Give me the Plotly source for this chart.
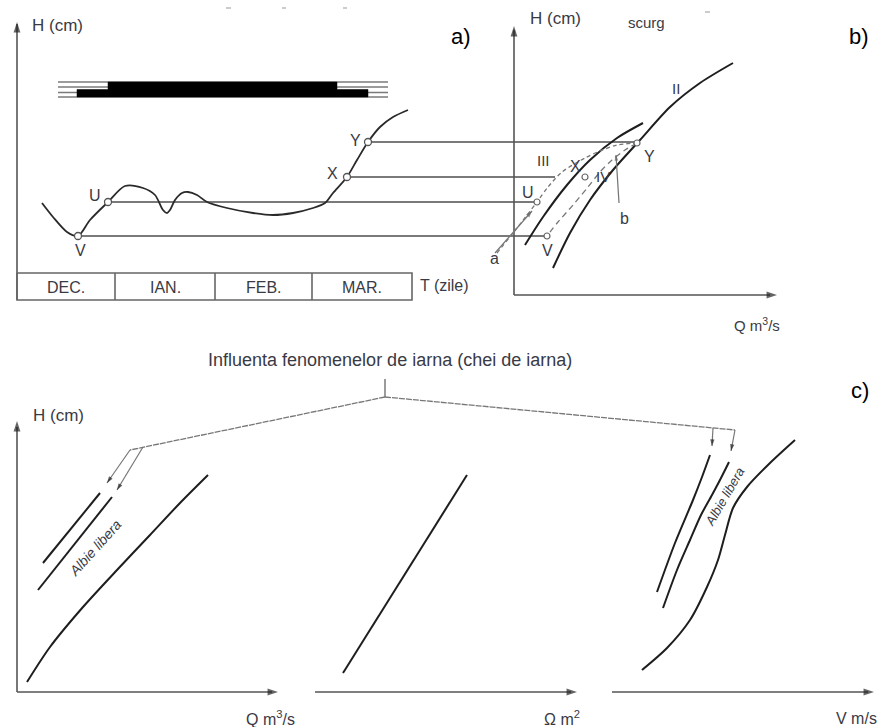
import plotly.graph_objects as go

# ---------------- data (diagram units: x to the right, y downward) ----------------
# panel a) water-level hydrograph H(t)
hydro_t = [42, 53, 67, 78, 90, 108, 125, 143, 155, 163, 167, 170, 175, 182, 188, 197, 207, 227, 253, 273, 293,
           313, 325, 333, 347, 357, 368, 380, 393, 408]
hydro_h = [203, 217, 232, 236, 220, 202, 186, 188, 195, 210, 213, 210, 200, 193, 192, 195, 202, 208, 213, 215, 213,
           208, 203, 193, 177, 160, 142, 127, 117, 110]

point_names = ["V", "U", "X", "Y"]
point_t = [78, 108, 347, 368]
point_h = [236, 202, 177, 142]
level_end_q = [545, 535, 555, 635]

# ice-cover bar
ice_line_h = [82, 87, 92.5, 97]
ice_line_t = [58, 388]
ice_poly_t = [108, 337, 337, 368, 368, 77, 77, 108, 108]
ice_poly_h = [82, 82, 89.5, 89.5, 97, 97, 89.5, 89.5, 82]

# month table
months = ["DEC.", "IAN.", "FEB.", "MAR."]
table_edges = [17, 115, 215, 312, 412]
table_top, table_bottom = 273, 300

# panel b) rating curves
curveII_q = [553, 570, 590, 613, 640, 670, 700, 733]
curveII_h = [268, 233, 200, 170, 140, 107, 83, 63]
curveIII_q = [525, 543, 567, 590, 617, 643]
curveIII_h = [245, 217, 185, 160, 138, 123]
rise_q = [497, 517, 537, 548, 562, 585, 600, 617, 637]
rise_h = [253, 228, 202, 187, 172, 158, 151, 145, 143]
fall_q = [637, 625, 612, 600, 588, 573, 558, 547]
fall_h = [143, 150, 160, 172, 187, 205, 222, 236]
b_marker_q = [547, 537, 585, 637]
b_marker_h = [236, 202, 177, 143]
pointer_a_q = [495, 532]
pointer_a_h = [253, 211]
pointer_b_q = [619, 616]
pointer_b_h = [203, 155]

# panel c) H-Q, H-Omega, H-V
curveQ_x = [27, 50, 83, 117, 150, 180, 208]
curveQ_y = [682, 647, 607, 570, 535, 503, 475]
winterQ1_x = [43, 100]
winterQ1_y = [563, 493]
winterQ2_x = [38, 112]
winterQ2_y = [590, 497]
omega_x = [343, 467]
omega_y = [673, 475]
curveV_x = [642, 667, 690, 707, 718, 725, 733, 747, 770, 795]
curveV_y = [670, 648, 620, 587, 560, 535, 508, 487, 463, 440]
winterV1_x = [657, 675, 693, 702, 710]
winterV1_y = [592, 543, 500, 477, 455]
winterV2_x = [663, 677, 690, 701, 712, 721, 729]
winterV2_y = [608, 570, 540, 515, 495, 478, 462]

# bracket "Influenta fenomenelor de iarna"
bracket_stem_x = [385, 385]
bracket_stem_y = [379, 397]
bracket_left_x = [385, 143, 130]
bracket_left_y = [397, 447, 450]
bracket_right_x = [385, 735]
bracket_right_y = [397, 430]
leader_x = [[130, 107], [143, 117], [713, 712], [735, 731]]
leader_y = [[450, 483], [447, 490], [428, 446], [430, 451]]

# tiny cut-off marks at the top
top_marks_x = [[226, 231], [282, 286], [343, 347], [705, 710]]
top_marks_y = [8, 8, 8, 12]

FONT = "Liberation Sans, Arial, sans-serif"
TXT = "#3a3a44"
AX = "#555555"
DARK = "#1e1e1e"
GRAY = "#7a7a7a"

fig = go.Figure()


def line(xs, ys, color=DARK, width=2.0, dash=None, shape="linear", fill=None, fillcolor=None):
    fig.add_trace(go.Scatter(x=xs, y=ys, mode="lines", line=dict(color=color, width=width, dash=dash,
                                                                  shape=shape, smoothing=0.8),
                             fill=fill, fillcolor=fillcolor, hoverinfo="skip"))


def arrow_tip(xs, ys, color=AX, size=10):
    fig.add_trace(go.Scatter(x=xs, y=ys, mode="markers",
                             marker=dict(symbol="arrow", angleref="previous", size=[0, size],
                                         color=color, line=dict(width=0)),
                             hoverinfo="skip"))


def text(x, y, s, size=17, color=TXT, angle=0, xanchor="center", italic=False):
    fig.add_annotation(x=x, y=y, text=("<i>%s</i>" % s) if italic else s, showarrow=False,
                       font=dict(family=FONT, size=size, color=color), textangle=angle,
                       xanchor=xanchor, yanchor="middle")


# ---------- panel a ----------
line([17, 17], [table_bottom, 24], AX, 1.6)
arrow_tip([17, 17], [40, 22], "#222", 11)
# ice bar
for h in ice_line_h:
    line(ice_line_t, [h, h], GRAY, 1.4)
line(ice_poly_t, ice_poly_h, "black", 0.5, fill="toself", fillcolor="black")
# level lines to panel b
for t, h, q in zip(point_t, point_h, level_end_q):
    line([t, q], [h, h], GRAY, 1.8)
line(hydro_t, hydro_h, "#2a2a2a", 1.8, shape="spline")
fig.add_trace(go.Scatter(x=point_t, y=point_h, mode="markers",
                         marker=dict(symbol="circle", size=7, color="white", line=dict(color="#555", width=1.3)),
                         hoverinfo="skip"))
# table
line([table_edges[0], table_edges[-1], table_edges[-1], table_edges[0], table_edges[0]],
     [table_top, table_top, table_bottom, table_bottom, table_top], "#666", 1.6)
for e in table_edges[1:-1]:
    line([e, e], [table_top, table_bottom], "#666", 1.6)
for i, m in enumerate(months):
    text((table_edges[i] + table_edges[i + 1]) / 2, 287, m, 16)
text(418, 285, "T (zile)", 16, xanchor="left")
text(57, 25, "H (cm)", 17)
text(461, 36, "a)", 22, "black")
label_offsets = {"V": (2, 14), "U": (-13, -7), "X": (-15, -4), "Y": (-13, -2)}
for n, t, h in zip(point_names, point_t, point_h):
    dx, dy = label_offsets[n]
    text(t + dx, h + dy, n, 16)

# ---------- panel b ----------
line([514, 514], [295, 30], AX, 1.6)
arrow_tip([514, 514], [60, 26], "#222", 11)
line([514, 770], [295, 295], AX, 1.6)
arrow_tip([740, 777], [295, 295], "#222", 11)
line(curveIII_q, curveIII_h, DARK, 2.0, shape="spline")
line(curveII_q, curveII_h, DARK, 2.0, shape="spline")
line(rise_q, rise_h, "#777", 1.3, dash="4px,3px", shape="spline")
line(fall_q, fall_h, "#777", 1.3, dash="6px,4px", shape="spline")
line(pointer_a_q, pointer_a_h, "#777", 1.2)
arrow_tip(pointer_a_q, pointer_a_h, "#666", 7)
line(pointer_b_q, pointer_b_h, "#777", 1.2)
arrow_tip(pointer_b_q, pointer_b_h, "#666", 6)
fig.add_trace(go.Scatter(x=b_marker_q, y=b_marker_h, mode="markers",
                         marker=dict(symbol="circle", size=6, color="white", line=dict(color="#666", width=1.2)),
                         hoverinfo="skip"))
text(555, 18, "H (cm)", 17)
text(646, 22, "scurg", 15)
text(859, 36, "b)", 22, "black")
text(676, 88, "II", 15)
text(543, 160, "III", 15)
text(575, 166, "X", 16)
text(603, 176, "IV", 15)
text(528, 192, "U", 16)
text(547, 250, "V", 16)
text(649, 156, "Y", 16)
text(494, 258, "a", 16)
text(624, 218, "b", 16)
text(757, 324, "Q m<sup>3</sup>/s", 15)

# ---------- panel c ----------
line([17, 17], [692, 427], AX, 1.6)
arrow_tip([17, 17], [460, 421], "#222", 11)
for x0, x1 in [(17, 272), (315, 571), (612, 868)]:
    line([x0, x1], [692, 692], AX, 1.6)
    arrow_tip([x1 - 30, x1 + 6], [692, 692], "#222", 11)
line(curveQ_x, curveQ_y, DARK, 2.0, shape="spline")
line(winterQ1_x, winterQ1_y, DARK, 2.0)
line(winterQ2_x, winterQ2_y, DARK, 2.0)
line(omega_x, omega_y, DARK, 2.0)
line(curveV_x, curveV_y, DARK, 2.0, shape="spline")
line(winterV1_x, winterV1_y, DARK, 2.0, shape="spline")
line(winterV2_x, winterV2_y, DARK, 2.0, shape="spline")
line(bracket_stem_x, bracket_stem_y, "#666", 1.3)
line(bracket_left_x, bracket_left_y, "#777", 1.3, dash="6px,1px")
line(bracket_right_x, bracket_right_y, "#777", 1.3, dash="6px,1px")
for lx, ly in zip(leader_x, leader_y):
    line(lx, ly, "#777", 1.2)
    arrow_tip(lx, ly, "#222", 7)
text(390, 360, "Influenta fenomenelor de iarna (chei de iarna)", 18)
text(58, 415, "H (cm)", 17)
text(860, 390, "c)", 22, "black")
text(95, 548, "Albie libera", 14, angle=-48, italic=True)
text(724, 497, "Albie libera", 13, angle=-60, italic=True)
text(270, 718, "Q m<sup>3</sup>/s", 16)
text(562, 718, "\u03a9 m<sup>2</sup>", 16)
text(856, 718, "V m/s", 16)

for mx, my in zip(top_marks_x, top_marks_y):
    line(mx, [my, my], "#aaaaaa", 1.2)

fig.update_layout(width=885, height=727, margin=dict(l=0, r=0, t=0, b=0),
                  paper_bgcolor="white", plot_bgcolor="white", showlegend=False,
                  xaxis=dict(range=[0, 885], visible=False, fixedrange=True),
                  yaxis=dict(range=[727, 0], visible=False, fixedrange=True))

fig.write_html("out.html", config={"displayModeBar": False},
               post_script="document.body.style.margin='0';document.body.style.overflow='hidden';")
